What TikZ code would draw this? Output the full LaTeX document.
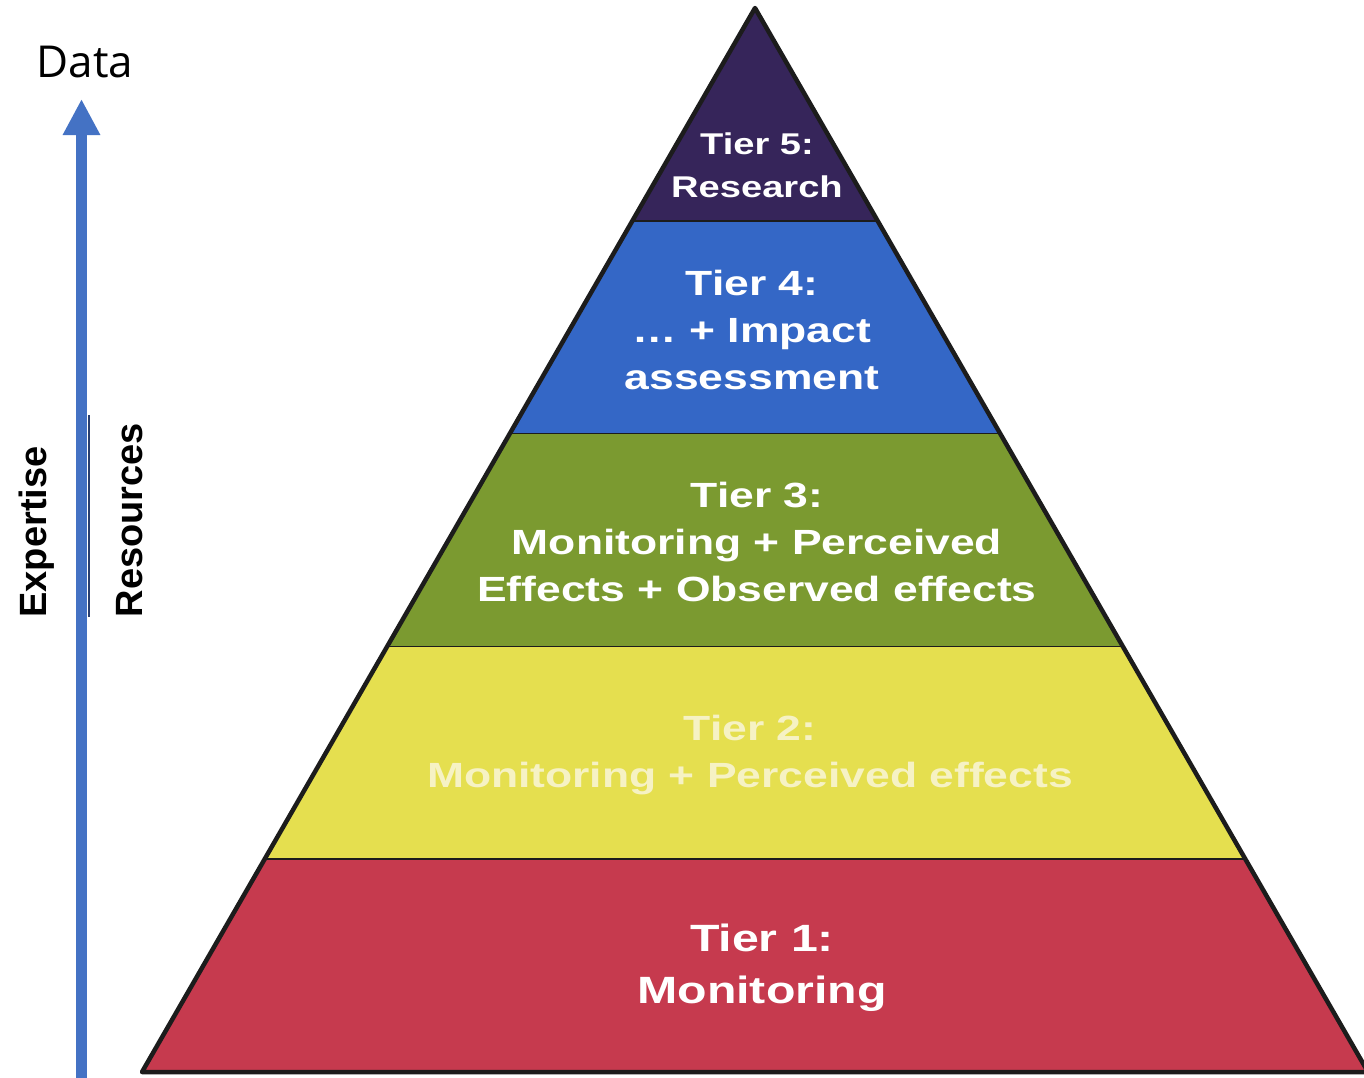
\documentclass[tikz,border=0pt]{standalone}
\usepackage{fontspec}
\setmainfont{Liberation Sans}
\newfontfamily\tierfont[FakeStretch=1.27]{Liberation Sans}
\newfontfamily\datafont{Open Sans}
\usetikzlibrary{calc,arrows.meta}
\definecolor{cfive}{HTML}{36255A}
\definecolor{cfour}{HTML}{3467C6}
\definecolor{cthree}{HTML}{7B9A30}
\definecolor{ctwo}{HTML}{E5DF4F}
\definecolor{cone}{HTML}{C63A4E}
\definecolor{tiertwotext}{HTML}{F6F2C4}
\definecolor{arrowblue}{HTML}{4472C4}
\definecolor{edgedark}{HTML}{1C1C1C}
\definecolor{navyline}{HTML}{2A3F70}
\begin{document}
\begin{tikzpicture}[x=1pt,y=-1pt,
  tier/.style={text=white, align=center, inner sep=0pt},
  tiermid/.style={tier, font=\tierfont\bfseries\fontsize{35}{47}\selectfont},
  sep/.style={edgedark, line width=1.5pt},
  outline/.style={edgedark, line width=4.5pt, line join=round},
  sidelabel/.style={rotate=90, font=\bfseries\fontsize{38}{40}\selectfont, text=black, inner sep=0pt}]
\useasboundingbox[fill=white] (0,0) rectangle (1364,1077);

% pyramid
\coordinate (A) at (755,8);
\coordinate (BL) at (142,1072);
\coordinate (BR) at (1368,1072);
\coordinate (L1) at ($(A)!0.2!(BL)$);
\coordinate (R1) at ($(A)!0.2!(BR)$);
\coordinate (L2) at ($(A)!0.4!(BL)$);
\coordinate (R2) at ($(A)!0.4!(BR)$);
\coordinate (L3) at ($(A)!0.6!(BL)$);
\coordinate (R3) at ($(A)!0.6!(BR)$);
\coordinate (L4) at ($(A)!0.8!(BL)$);
\coordinate (R4) at ($(A)!0.8!(BR)$);

\fill[cfive] (A) -- (L1) -- (R1) -- cycle;
\fill[cfour] (L1) -- (L2) -- (R2) -- (R1) -- cycle;
\fill[cthree] (L2) -- (L3) -- (R3) -- (R2) -- cycle;
\fill[ctwo] (L3) -- (L4) -- (R4) -- (R3) -- cycle;
\fill[cone] (L4) -- (BL) -- (BR) -- (R4) -- cycle;
\draw[sep] (L1) -- (R1);
\draw[sep] (L2) -- (R2);
\draw[sep] (L3) -- (R3);
\draw[sep] (L4) -- (R4);
\draw[outline] (A) -- (BL) -- (BR) -- cycle;

% tier texts
\node[tier, font=\tierfont\bfseries\fontsize{30}{43}\selectfont] (t5) at (757,165) {Tier 5:\\Research};
\node[tiermid] (t4) at (752,330) {Tier 4:\\\dots{} + Impact\\assessment};
\node[tiermid] (t3) at (757,542) {Tier 3:\\Monitoring + Perceived\\Effects + Observed effects};
\node[tiermid, text=tiertwotext] (t2) at (750,755) {Tier 2:\\Monitoring + Perceived effects};
\node[tier, font=\tierfont\bfseries\fontsize{38}{52}\selectfont] (t1) at (762,968) {Tier 1:\\Monitoring};

% axis arrow
\coordinate (arrbot) at (81.5,1082);
\coordinate (arrtop) at (81.5,99);
\draw[arrowblue, line width=11pt, -{Triangle[width=35pt,length=36pt]}] (arrbot) -- (arrtop);
\coordinate (nav1) at (88.5,415);
\coordinate (nav2) at (88.5,617);
\draw[navyline, line width=2pt] (nav1) -- (nav2);

\node[font=\datafont\fontsize{44}{50}\selectfont, inner sep=0pt] (data) at (85,62) {Data};
\node[sidelabel] (exp) at (37,532) {Expertise};
\node[sidelabel] (res) at (130,520) {Resources};
\end{tikzpicture}
\end{document}
